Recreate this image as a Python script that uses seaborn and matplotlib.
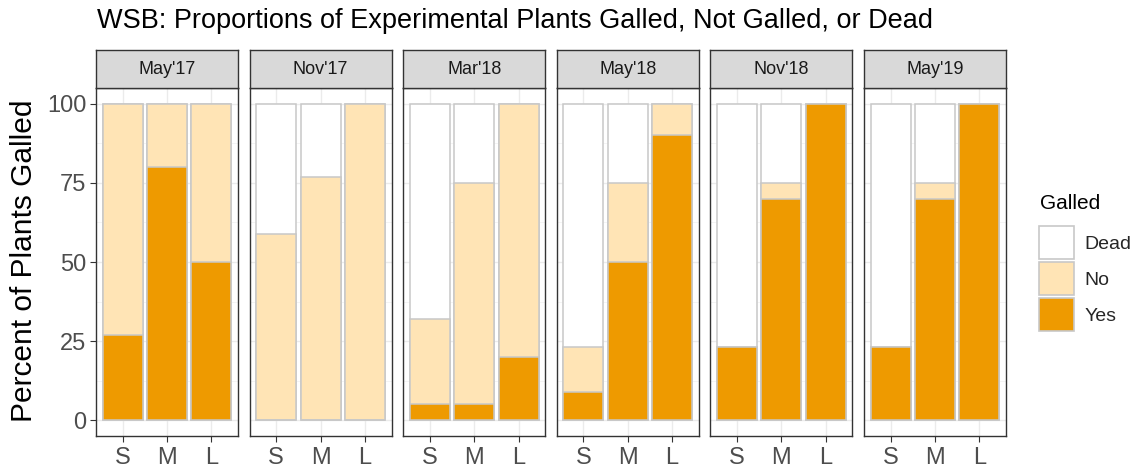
import numpy as np
import pandas as pd
import matplotlib
matplotlib.use("Agg")
import matplotlib.pyplot as plt
from matplotlib.patches import Patch
import seaborn as sns

periods = ["May'17", "Nov'17", "Mar'18", "May'18", "Nov'18", "May'19"]
sizes = ["S", "M", "L"]

# percent of plants per period x size (S, M, L in each group of three)
yes_pct = [27, 80, 50,   0, 0, 0,     5, 5, 20,    9, 50, 90,   23, 70, 100,  23, 70, 100]
no_pct = [73, 20, 50,   59, 77, 100,  27, 70, 80,  14, 25, 10,   0, 5, 0,     0, 5, 0]
dead_pct = [0, 0, 0,    41, 23, 0,    68, 25, 0,   77, 25, 0,   77, 25, 0,   77, 25, 0]

status = ["Dead", "No", "Yes"]
colors = {"Dead": "#FFFFFF", "No": "#FFE4B5", "Yes": "#EE9A00"}

df = pd.DataFrame({
    "period": np.repeat(periods, 3),
    "size": sizes * len(periods),
    "Yes": yes_pct,
    "No": no_pct,
    "Dead": dead_pct,
})
# cumulative heights for layered stacking
df["cum_Yes"] = df["Yes"]
df["cum_No"] = df["Yes"] + df["No"]
df["cum_Dead"] = df["Yes"] + df["No"] + df["Dead"]

sns.set_theme(style="white")
plt.rcParams["font.family"] = ["Liberation Sans", "DejaVu Sans"]

W, H = 1141, 473
fig = plt.figure(figsize=(W / 100, H / 100), dpi=100)

def frac(x0, y0, w, h):
    return [x0 / W, 1 - (y0 + h) / H, w / W, h / H]

left0, step, pw = 96, 153.6, 142
ptop, pbot = 88, 436
stop = 50

for i, per in enumerate(periods):
    x0 = left0 + i * step
    ax = fig.add_axes(frac(x0, ptop, pw, pbot - ptop))
    sub = df[df["period"] == per]
    for s in status:
        sns.barplot(data=sub, x="size", y="cum_" + s, order=sizes, color=colors[s],
                    width=0.9, edgecolor="#C8C8C8", linewidth=1.1, errorbar=None,
                    saturation=1, ax=ax, zorder=2)
    ax.set_xlim(-0.6, 2.6)
    ax.set_ylim(-5, 105)
    ax.set_yticks([0, 25, 50, 75, 100])
    ax.set_yticks([12.5, 37.5, 62.5, 87.5], minor=True)
    ax.grid(True, which="major", color="#EBEBEB", linewidth=1.0, zorder=0)
    ax.grid(True, which="minor", axis="y", color="#F2F2F2", linewidth=0.6, zorder=0)
    ax.set_axisbelow(True)
    ax.set_xlabel("")
    ax.set_ylabel("")
    ax.tick_params(axis="both", which="major", length=4, width=0.8, color="#333333",
                   labelsize=17, labelcolor="#4D4D4D", bottom=True, left=(i == 0))
    ax.tick_params(axis="x", pad=4)
    ax.tick_params(axis="y", pad=3)
    ax.tick_params(which="minor", length=0)
    if i > 0:
        ax.set_yticklabels([])
    for sp in ax.spines.values():
        sp.set_color("#333333")
        sp.set_linewidth(1.0)

    sax = fig.add_axes(frac(x0, stop, pw, ptop - stop))
    sax.set_facecolor("#D9D9D9")
    sax.set_xticks([])
    sax.set_yticks([])
    for sp in sax.spines.values():
        sp.set_color("#333333")
        sp.set_linewidth(1.0)
    sax.text(0.5, 0.48, per, ha="center", va="center", fontsize=13, color="#1A1A1A",
             transform=sax.transAxes)

fig.text(97 / W, 1 - 21 / H, "WSB: Proportions of Experimental Plants Galled, Not Galled, or Dead",
         ha="left", va="center", fontsize=19.5, color="black")
fig.text(24 / W, 1 - 261 / H, "Percent of Plants Galled", rotation=90, ha="center", va="center",
         fontsize=21.5, color="black")

# legend title as its own text so the gap to the keys matches
fig.text(1040 / W, 1 - 194 / H, "Galled", ha="left", va="top", fontsize=15, color="black")
handles = [Patch(facecolor=colors[s], edgecolor="#C8C8C8", linewidth=1.2, label=s) for s in status]
fig.legend(handles=handles, loc="upper left", bbox_to_anchor=(1039 / W, 1 - 226 / H),
           frameon=False, fontsize=14, handlelength=1.8, handleheight=2.24,
           labelspacing=0.15, handletextpad=0.55, borderaxespad=0, borderpad=0)

fig.savefig("out.png", dpi=100)
